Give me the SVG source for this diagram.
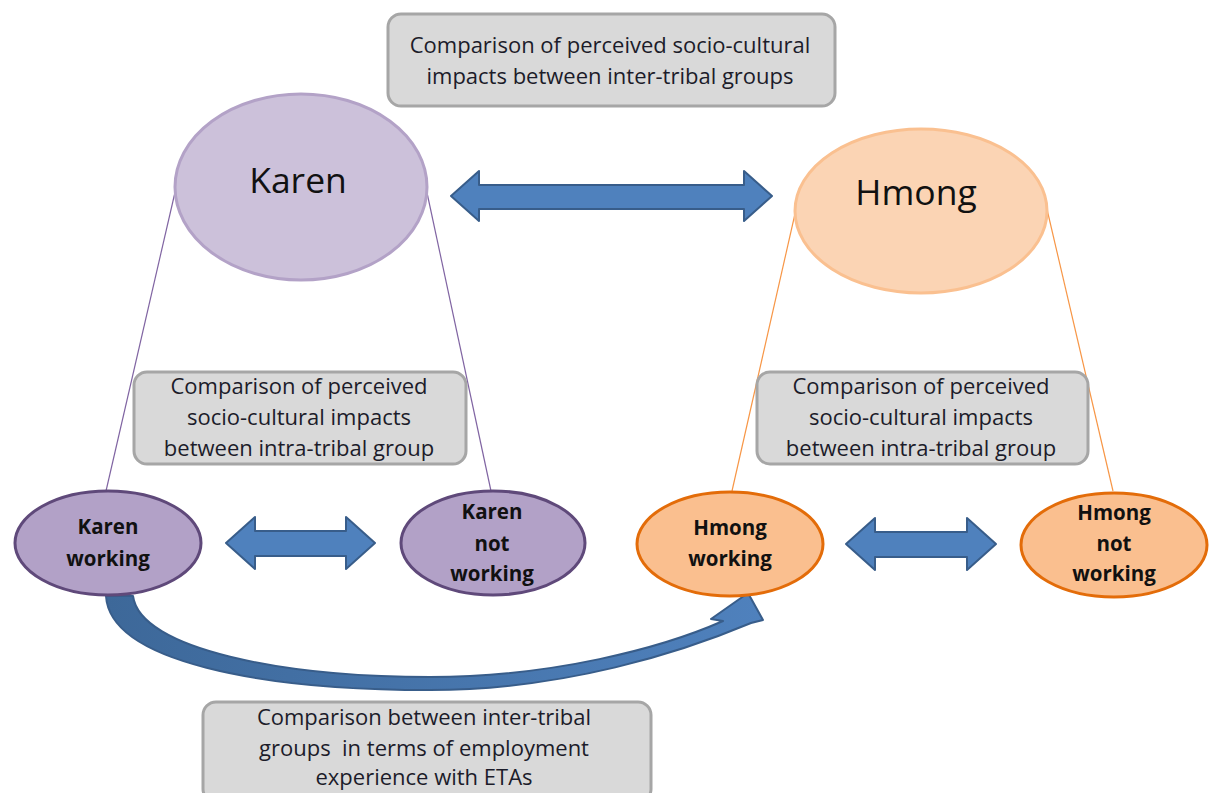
<svg xmlns="http://www.w3.org/2000/svg" width="1216" height="793" viewBox="0 0 1216 793">
  <defs>
    <linearGradient id="curveFill" x1="0" y1="0" x2="1" y2="0">
      <stop offset="0" stop-color="#3d6899"/>
      <stop offset="1" stop-color="#4f81bd"/>
    </linearGradient>
  </defs>
  <style>
    .box { fill: #d9d9d9; stroke: #a6a6a6; stroke-width: 3; }
    .label { font-family: "Open Sans", "Liberation Sans", sans-serif; font-size: 22px; fill: #1c1c2a; text-anchor: middle; }
    .big { font-family: "Open Sans", "Liberation Sans", sans-serif; font-size: 35.5px; fill: #111; text-anchor: middle; }
    .sub { font-family: "Open Sans", "Liberation Sans", sans-serif; font-size: 20.5px; font-weight: bold; fill: #111; text-anchor: middle; }
    .dbl { fill: #4f81bd; stroke: #385d8a; stroke-width: 2; stroke-linejoin: round; }
    .karen-line { stroke: #8064a2; stroke-width: 1.2; fill: none; }
    .hmong-line { stroke: #f79646; stroke-width: 1.2; fill: none; }
  </style>

  <rect width="1216" height="793" fill="#ffffff"/>

  <!-- connectors: tie lines, double arrows and the curved arrow -->
  <g id="connectors">
    <line class="karen-line" x1="176" y1="188" x2="106" y2="491"/>
    <line class="karen-line" x1="426" y1="188" x2="491" y2="491"/>
    <line class="hmong-line" x1="797" y1="205" x2="732" y2="491"/>
    <line class="hmong-line" x1="1046" y1="205" x2="1113" y2="491"/>

    <!-- Karen <-> Hmong -->
    <path class="dbl" d="M451,196 L479,171 L479,185 L744,185 L744,171 L772,196 L744,221 L744,209 L479,209 L479,221 Z"/>
    <!-- Karen working <-> Karen not working -->
    <path class="dbl" d="M226,543 L255,517 L255,531 L346,531 L346,517 L375,543 L346,569 L346,556 L255,556 L255,569 Z"/>
    <!-- Hmong working <-> Hmong not working -->
    <path class="dbl" d="M846,544 L875,518 L875,532 L967,532 L967,518 L996,544 L967,570 L967,557 L875,557 L875,570 Z"/>

    <!-- Karen working -> Hmong working -->
    <path fill="url(#curveFill)" stroke="#385d8a" stroke-width="2" stroke-linejoin="round"
          d="M106,596 C110,662 262,690 430,690 C565,690 682,652 751,623 L763,620 L748,593 L711,619 L723,621 C662,648 552,677 430,677 C286,677 140,650 133,596 Z"/>
  </g>

  <g id="top-label">
    <rect class="box" x="388" y="14" width="447" height="92" rx="13"/>
    <text class="label" x="610" y="53">Comparison of perceived socio-cultural</text>
    <text class="label" x="610" y="84">impacts between inter-tribal groups</text>
  </g>

  <g id="karen">
    <ellipse cx="301" cy="187" rx="126" ry="93" fill="#ccc1da" stroke="#b3a2c7" stroke-width="3"/>
    <text class="big" x="298" y="193">Karen</text>
  </g>

  <g id="hmong">
    <ellipse cx="921" cy="211" rx="126" ry="82" fill="#fbd4b4" stroke="#fac090" stroke-width="3"/>
    <text class="big" x="916" y="205">Hmong</text>
  </g>

  <g id="karen-intra-label">
    <rect class="box" x="134" y="372" width="332" height="92" rx="13"/>
    <text class="label" x="299" y="394">Comparison of perceived</text>
    <text class="label" x="299" y="425">socio-cultural impacts</text>
    <text class="label" x="299" y="456">between intra-tribal group</text>
  </g>

  <g id="hmong-intra-label">
    <rect class="box" x="757" y="372" width="331" height="92" rx="13"/>
    <text class="label" x="921" y="394">Comparison of perceived</text>
    <text class="label" x="921" y="425">socio-cultural impacts</text>
    <text class="label" x="921" y="456">between intra-tribal group</text>
  </g>

  <g id="karen-working">
    <ellipse cx="108" cy="543" rx="93" ry="52" fill="#b2a1c7" stroke="#5f497a" stroke-width="3"/>
    <text class="sub" x="108" y="534">Karen</text>
    <text class="sub" x="108" y="566">working</text>
  </g>

  <g id="karen-not-working">
    <ellipse cx="493" cy="543" rx="92" ry="52" fill="#b2a1c7" stroke="#5f497a" stroke-width="3"/>
    <text class="sub" x="492" y="519">Karen</text>
    <text class="sub" x="492" y="551">not</text>
    <text class="sub" x="492" y="581">working</text>
  </g>

  <g id="hmong-working">
    <ellipse cx="730" cy="544" rx="93" ry="52" fill="#fabf8f" stroke="#e36c09" stroke-width="3"/>
    <text class="sub" x="730" y="535">Hmong</text>
    <text class="sub" x="730" y="566">working</text>
  </g>

  <g id="hmong-not-working">
    <ellipse cx="1114" cy="545" rx="93" ry="52" fill="#fabf8f" stroke="#e36c09" stroke-width="3"/>
    <text class="sub" x="1114" y="520">Hmong</text>
    <text class="sub" x="1114" y="551">not</text>
    <text class="sub" x="1114" y="581">working</text>
  </g>

  <g id="bottom-label">
    <rect class="box" x="203" y="702" width="448" height="100" rx="13"/>
    <text class="label" x="424" y="725">Comparison between inter-tribal</text>
    <text class="label" x="424" y="756" xml:space="preserve">groups  in terms of employment</text>
    <text class="label" x="424" y="785">experience with ETAs</text>
  </g>
</svg>
